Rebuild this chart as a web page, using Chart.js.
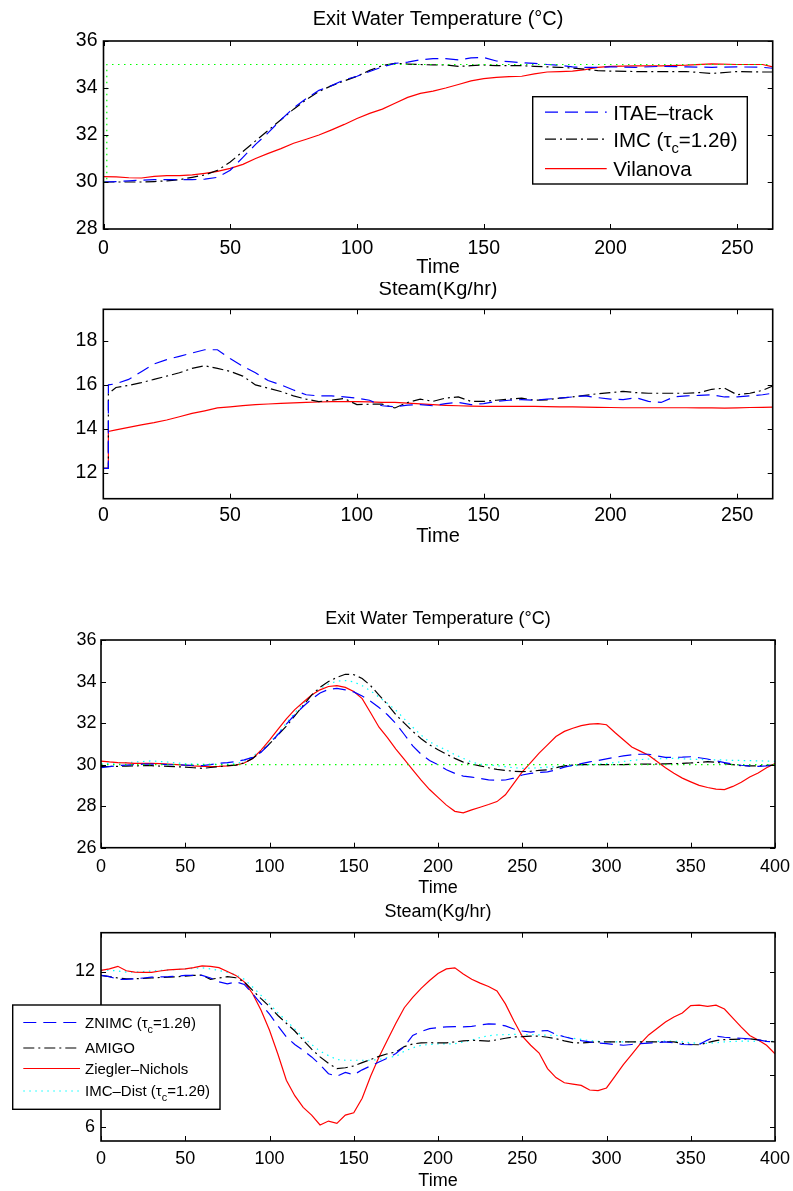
<!DOCTYPE html>
<html>
<head>
<meta charset="utf-8">
<title>Exit water temperature and steam flow</title>
<script src="https://cdn.jsdelivr.net/npm/chart.js@4.4.0/dist/chart.umd.min.js"></script>
<style>
  html, body { margin:0; padding:0; background:#fff; }
  #page { position:relative; width:793px; height:1191px; overflow:hidden; background:#fff; }
  #page canvas { position:absolute; left:0; }
</style>
</head>
<body>
<div id="page">
  <canvas id="c-track-temp"  width="793" height="282" style="top:0"></canvas>
  <canvas id="c-track-steam" width="793" height="278" style="top:282px"></canvas>
  <canvas id="c-dist-temp"   width="793" height="310" style="top:590px"></canvas>
  <canvas id="c-dist-steam"  width="793" height="291" style="top:900px"></canvas>
</div>
<script>
// ---- setpoint tracking run ----
const time1 = [0,5,10,15,20,25,30,35,40,45,50,55,60,65,70,75,80,85,90,95,100,105,110,115,120,125,130,135,140,145,
  150,155,160,165,170,175,180,185,190,195,200,210,220,230,240,250,260,264];
const itaeTemp = [30.0,30.02,30.05,30.08,30.1,30.1,30.1,30.1,30.12,30.2, 30.5,31.05,31.6,32.1,32.65,33.15,33.55,33.9,34.1,34.35,
  34.5,34.7,34.9,35.05,35.1,35.2,35.25,35.25,35.2,35.28, 35.3,35.15,35.12,35.08,35.05,35.0,34.97,34.9,34.88,34.88,
  34.9, 34.88,34.92,34.9,34.88,34.9,34.88,34.84];
const imcTemp = [30.0,30.0,30.0,30.0,30.02,30.05,30.1,30.2,30.3,30.5, 30.85,31.3,31.75,32.2,32.65,33.1,33.5,33.85,34.1,34.3,
  34.5,34.75,34.95,35.05,35.02,35.0,34.98,34.98,34.92,34.95, 34.98,34.95,34.95,34.95,34.92,34.9,34.88,34.85,34.8,34.74,
  34.72, 34.7,34.7,34.7,34.62,34.7,34.68,34.68];
const vilanovaTemp = [30.23,30.22,30.18,30.17,30.24,30.27,30.27,30.3,30.37,30.45, 30.58,30.75,31.0,31.22,31.42,31.65,31.82,32.0,32.22,32.45,
  32.7,32.92,33.1,33.35,33.6,33.77,33.87,34.0,34.15,34.3, 34.4,34.45,34.48,34.5,34.6,34.68,34.7,34.72,34.78,34.88,
  34.92, 34.94,34.94,34.97,35.03,35.0,35.0,34.9];
const spTime1 = [0, 1.3, 1.3, 264];
const spTemp1 = [30, 30, 35, 35];

const time2 = [0,2,2,5,10,15,20,25,30,35,40,45,50,55,60,65,70,75,80,85,90,95,100,105,110,115,120,125,130,135,140,145,
  150,155,160,165,170,175,180,185,190,195,200,205,210,215,220,225,230,235,240,245,250,255,260,264];
const itaeSteam = [12.2,12.2,16.0, 16.05,16.25,16.6,16.95,17.15,17.3,17.45,17.6,17.6,17.2,
  16.85,16.55,16.2,16.0,15.77,15.55,15.5,15.5,15.45,15.4, 15.3,15.05,15.0,15.08,15.1,15.05,15.15,15.2,15.1,15.15,
  15.25,15.3,15.33,15.3,15.35,15.4,15.45,15.5,15.42,15.35, 15.33,15.42,15.25,15.2,15.45,15.5,15.52,15.55,15.45,15.45,
  15.5,15.55, 15.62];
const imcSteam = [12.2,12.2,15.6, 15.88,15.98,16.1,16.25,16.4,16.55,16.75,16.87,16.75,16.62,
  16.4,16.0,15.85,15.7,15.5,15.35,15.24,15.3,15.38,15.1, 15.12,15.12,14.95,15.2,15.35,15.25,15.4,15.45,15.25,15.25,
  15.3,15.35,15.4,15.3,15.32,15.4,15.45,15.52,15.6,15.65, 15.7,15.65,15.62,15.62,15.62,15.62,15.65,15.8,15.85,15.55,
  15.62,15.75, 15.95];
const vilanovaSteam = [12.2,12.2,13.88, 13.95,14.07,14.18,14.28,14.4,14.55,14.7,14.82,14.95,15.0,
  15.06,15.1,15.13,15.16,15.18,15.2,15.22,15.24,15.24,15.24, 15.23,15.2,15.2,15.17,15.14,15.1,15.07,15.05,15.03,15.02,
  15.02,15.02,15.02,15.02,15.01,15.0,15.0,14.99,14.98,14.97, 14.96,14.96,14.96,14.96,14.96,14.96,14.95,14.95,14.94,14.95,
  14.97,14.98, 14.99];

// ---- disturbance rejection run ----
const time3 = [0,5,10,15,20,25,30,35,40,45,50,55,60,65,70,75,80,85,90,95,100,105,110,115,120,125,130,135,140,145,
  150,155,160,165,170,175,180,185,190,195,200,205,210,215,220,225,230,235,240,245,250,255,260,265,270,275,280,285,290,295,
  300,305,310,315,320,325,330,335,340,345,350,355,360,365,370,375,380,385,390,395,400];
const znimcTemp = [29.85,29.9,29.95,29.98,30.0,30.02,30.03,30.02,30.0,29.99,
  29.98,29.96,29.95,30.0,30.06,30.1,30.15,30.23,30.35,30.6,
  31.0,31.45,31.95,32.4,32.8,33.15,33.45,33.62,33.67,33.6,
  33.5,33.3,33.05,32.75,32.4,31.98,31.45,30.9,30.5,30.2,
  30.0,29.75,29.58,29.45,29.4,29.33,29.27,29.25,29.26,29.35,
  29.5,29.58,29.62,29.65,29.75,29.88,29.97,30.05,30.13,30.2,
  30.28,30.35,30.42,30.47,30.5,30.5,30.42,30.35,30.35,30.36,
  30.38,30.33,30.27,30.18,30.1,30.02,29.97,29.93,29.92,29.94,
  29.97];
const amigoTemp = [29.9,29.91,29.92,29.93,29.94,29.95,29.95,29.93,29.92,29.9,
  29.88,29.85,29.82,29.86,29.9,29.95,29.98,30.08,30.3,30.62,
  31.0,31.42,31.85,32.35,32.85,33.35,33.72,34.0,34.2,34.35,
  34.33,34.15,33.8,33.35,32.9,32.4,32.0,31.6,31.25,30.95,
  30.72,30.5,30.3,30.12,30.02,29.94,29.85,29.77,29.72,29.68,
  29.66,29.68,29.72,29.75,29.85,29.94,29.98,30.0,30.0,30.0,
  30.0,30.0,30.0,30.01,30.02,30.02,30.03,30.04,30.05,30.06,
  30.08,30.11,30.14,30.12,30.05,30.0,29.95,29.94,29.94,29.96,
  29.98];
const zieglerTemp = [30.17,30.13,30.1,30.08,30.06,30.06,30.06,30.05,30.03,30.0,
  29.97,29.94,29.92,29.91,29.92,29.94,29.98,30.08,30.3,30.7,
  31.18,31.7,32.2,32.65,33.0,33.35,33.6,33.76,33.8,33.72,
  33.52,33.18,32.5,31.8,31.3,30.75,30.25,29.75,29.25,28.8,
  28.42,28.05,27.75,27.68,27.82,27.95,28.08,28.22,28.55,29.1,
  29.65,30.1,30.55,30.95,31.35,31.6,31.75,31.88,31.95,31.97,
  31.92,31.55,31.2,30.85,30.65,30.45,30.15,29.85,29.58,29.35,
  29.17,29.0,28.9,28.82,28.8,28.95,29.15,29.4,29.6,29.85,
  30.05];
const imcDistTemp = [30.05,30.06,30.08,30.1,30.12,30.15,30.18,30.15,30.12,30.08,
  30.05,30.03,30.02,30.02,30.02,30.03,30.05,30.15,30.4,30.68,
  31.05,31.5,32.0,32.5,32.95,33.35,33.65,33.88,34.02,34.05,
  33.98,33.8,33.55,33.25,32.95,32.62,32.2,31.8,31.42,31.1,
  30.88,30.7,30.48,30.3,30.12,30.02,29.98,29.95,29.9,29.85,
  29.82,29.83,29.85,29.88,29.9,29.92,29.94,29.97,30.0,30.02,
  30.05,30.1,30.15,30.2,30.24,30.27,30.28,30.29,30.3,30.28,
  30.26,30.25,30.24,30.23,30.22,30.2,30.2,30.19,30.18,30.17,
  30.16];
const spTime3 = [0, 400];
const spTemp3 = [30, 30];

const znimcSteam = [11.85,11.8,11.7,11.7,11.72,11.75,11.78,11.79,11.8,11.82,
  11.85,11.85,11.85,11.75,11.6,11.52,11.6,11.5,11.14,10.75,
  10.35,9.9,9.47,9.18,8.95,8.7,8.4,8.05,7.95,8.1,
  8.01,8.2,8.35,8.5,8.65,8.83,9.1,9.53,9.68,9.79,
  9.83,9.86,9.87,9.86,9.88,9.93,9.98,9.96,9.9,9.78,
  9.7,9.66,9.7,9.72,9.57,9.48,9.4,9.33,9.28,9.24,
  9.21,9.18,9.15,9.18,9.21,9.23,9.25,9.28,9.24,9.18,
  9.17,9.18,9.35,9.5,9.46,9.44,9.42,9.4,9.36,9.3,
  9.28];
const amigoSteam = [11.85,11.8,11.75,11.72,11.72,11.73,11.75,11.77,11.78,11.8,
  11.82,11.85,11.86,11.7,11.75,11.8,11.76,11.6,11.27,10.95,
  10.65,10.3,10.0,9.7,9.35,9.0,8.7,8.45,8.25,8.28,
  8.35,8.48,8.6,8.72,8.82,8.89,9.1,9.2,9.24,9.25,
  9.24,9.24,9.28,9.32,9.34,9.33,9.31,9.36,9.42,9.47,
  9.48,9.5,9.5,9.46,9.4,9.32,9.25,9.24,9.26,9.28,
  9.28,9.28,9.28,9.28,9.28,9.28,9.28,9.28,9.28,9.22,
  9.18,9.17,9.25,9.33,9.37,9.38,9.39,9.4,9.36,9.3,
  9.28];
const zieglerSteam = [12.04,12.1,12.2,12.03,11.98,11.97,11.97,12.02,12.06,12.08,
  12.1,12.15,12.22,12.2,12.15,12.0,11.85,11.6,11.14,10.5,
  9.73,8.8,7.8,7.2,6.75,6.45,6.07,6.22,6.13,6.45,
  6.54,7.1,7.95,8.7,9.35,10.0,10.6,11.0,11.35,11.65,
  11.92,12.1,12.14,11.9,11.7,11.55,11.42,11.25,10.75,10.1,
  9.5,9.15,8.85,8.25,7.9,7.7,7.65,7.6,7.42,7.4,
  7.5,7.95,8.4,8.8,9.2,9.55,9.8,10.05,10.24,10.4,
  10.68,10.7,10.65,10.7,10.55,10.2,9.85,9.53,9.35,9.15,
  8.82];
const imcDistSteam = [12.06,12.05,12.02,11.98,11.97,12.0,12.02,12.04,12.06,12.08,
  12.1,12.12,12.14,12.1,12.04,11.97,11.88,11.7,11.4,11.08,
  10.75,10.4,10.1,9.78,9.45,9.18,8.92,8.75,8.6,8.57,
  8.57,8.57,8.57,8.6,8.68,8.72,8.92,9.05,9.15,9.18,
  9.2,9.2,9.21,9.28,9.35,9.45,9.52,9.55,9.56,9.57,
  9.57,9.56,9.55,9.54,9.53,9.48,9.42,9.38,9.33,9.3,
  9.28,9.28,9.28,9.28,9.28,9.29,9.3,9.31,9.31,9.28,
  9.25,9.22,9.22,9.25,9.28,9.3,9.31,9.31,9.3,9.3,
  9.3];

// axis ticks
const xTicksTrack = [0, 50, 100, 150, 200, 250];
const xTicksDist  = [0, 50, 100, 150, 200, 250, 300, 350, 400];
const yTicksTemp1 = [28, 30, 32, 34, 36];
const yTicksSteam1 = [12, 14, 16, 18];
const yTicksTemp2 = [26, 28, 30, 32, 34, 36];
const yTicksSteam2 = [6, 8, 10, 12];

const FONT = "'Liberation Sans', Arial, Helvetica, sans-serif";
const CANVAS_W = 793;

const STYLE = {
  blue:  { borderColor:'#0000ff', borderDash:[13, 7] },
  black: { borderColor:'#000000', borderDash:[11, 4, 2, 4] },
  red:   { borderColor:'#ff0000', borderDash:[] },
  green: { borderColor:'#00ff00', borderDash:[1.5, 4.5] },
  cyan:  { borderColor:'#00ffff', borderDash:[1.5, 4.5] }
};

function pts(xs, ys) { return xs.map((x, i) => ({ x, y: ys[i] })); }

function lineSet(label, xs, ys, style, extra) {
  return Object.assign({ label, data: pts(xs, ys), pointRadius:0, borderWidth:1.2,
    tension:0, fill:false, backgroundColor:'transparent' }, style, extra || {});
}

// draws "τ_c" style labels with a one-character subscript
function drawRich(ctx, text, x, y, size) {
  const parts = text.split(/_(.)/);
  parts.forEach((p, i) => {
    const sub = i % 2 === 1;
    const fs = sub ? size * 0.72 : size;
    ctx.font = `${fs}px ${FONT}`;
    ctx.fillText(p, x, sub ? y + size * 0.32 : y);
    x += ctx.measureText(p).width;
  });
}

// matlab-like frame: box, inward ticks on every side, title, xlabel, legend
const matlabFrame = {
  id: 'matlabFrame',
  afterDatasetsDraw(chart, args, o) {
    const { ctx, chartArea: a, scales: { x, y } } = chart;
    ctx.save();
    ctx.strokeStyle = '#000';
    ctx.lineWidth = 1;
    ctx.setLineDash([]);
    ctx.beginPath();
    x.ticks.forEach(t => {
      const px = Math.round(x.getPixelForValue(t.value)) + 0.5;
      ctx.moveTo(px, a.bottom); ctx.lineTo(px, a.bottom - 5);
      ctx.moveTo(px, a.top);    ctx.lineTo(px, a.top + 5);
    });
    y.ticks.forEach(t => {
      const py = Math.round(y.getPixelForValue(t.value)) + 0.5;
      ctx.moveTo(a.left, py);  ctx.lineTo(a.left + 5, py);
      ctx.moveTo(a.right, py); ctx.lineTo(a.right - 5, py);
    });
    ctx.stroke();
    ctx.lineWidth = 1.6;
    ctx.strokeRect(a.left, a.top, a.right - a.left, a.bottom - a.top);

    ctx.fillStyle = '#000';
    ctx.textAlign = 'center';
    ctx.textBaseline = 'alphabetic';
    ctx.font = `${o.fontSize}px ${FONT}`;
    const cx = (a.left + a.right) / 2;
    ctx.fillText(o.title, cx, a.top + o.titleDy);
    ctx.fillText(o.xlabel, cx, a.bottom + o.xlabelDy);

    const lg = o.legend;
    if (lg) {
      ctx.fillStyle = '#fff';
      ctx.fillRect(lg.x, lg.y, lg.w, lg.h);
      ctx.lineWidth = 1.4;
      ctx.strokeRect(lg.x, lg.y, lg.w, lg.h);
      const items = chart.data.datasets.filter(d => !d.noLegend);
      items.forEach((d, i) => {
        const ry = lg.y + lg.rows[i];
        ctx.strokeStyle = d.borderColor;
        ctx.lineWidth = d.borderWidth;
        ctx.setLineDash(d.borderDash);
        ctx.beginPath();
        ctx.moveTo(lg.x + lg.lineFrom, ry);
        ctx.lineTo(lg.x + lg.lineTo, ry);
        ctx.stroke();
        ctx.setLineDash([]);
        ctx.fillStyle = '#000';
        ctx.textAlign = 'left';
        drawRich(ctx, d.label, lg.x + lg.textX, ry + lg.fontSize * 0.36, lg.fontSize);
      });
    }
    ctx.restore();
  }
};

function makePanel(id, p) {
  const canvas = document.getElementById(id);
  const H = canvas.height;
  const tickFont = { family: FONT, size: p.fontSize };
  return new Chart(canvas, {
    type: 'line',
    data: { datasets: p.datasets },
    options: {
      responsive: false,
      animation: false,
      events: [],
      layout: { padding: { left: 0, top: p.area.top, right: CANVAS_W - p.area.right, bottom: 0 } },
      plugins: {
        legend: { display: false },
        tooltip: { enabled: false },
        matlabFrame: { title: p.title, xlabel: 'Time', fontSize: p.titleSize || p.fontSize,
          titleDy: p.titleDy, xlabelDy: p.xlabelDy, legend: p.legend }
      },
      scales: {
        x: {
          type: 'linear', min: p.xMin, max: p.xMax,
          afterBuildTicks: s => { s.ticks = p.xTicks.map(v => ({ value: v })); },
          // fixed axis height; the edge labels may hang into the page margin
          afterFit: s => { s.height = H - p.area.bottom; s.paddingLeft = 0; s.paddingRight = 0; },
          grid: { display: false, drawTicks: false },
          border: { display: false },
          ticks: { color: '#000', font: tickFont, padding: p.xPad, maxRotation: 0, autoSkip: false }
        },
        y: {
          type: 'linear', min: p.yMin, max: p.yMax,
          afterBuildTicks: s => { s.ticks = p.yTicks.map(v => ({ value: v })); },
          afterFit: s => { s.width = p.area.left; s.paddingTop = 0; s.paddingBottom = 0; },
          grid: { display: false, drawTicks: false },
          border: { display: false },
          ticks: { color: '#000', font: tickFont, padding: p.yPad, autoSkip: false }
        }
      }
    },
    plugins: [matlabFrame]
  });
}

const tempTitle = 'Exit Water Temperature (°C)';
const steamTitle = 'Steam(Kg/hr)';

makePanel('c-track-temp', {
  title: tempTitle, fontSize: 19.5, titleSize: 20, titleDy: -16, xlabelDy: 44,
  area: { left: 103.5, right: 772.7, top: 41, bottom: 229 },
  xMin: 0, xMax: 264, yMin: 28, yMax: 36, xTicks: xTicksTrack, yTicks: yTicksTemp1, xPad: 8, yPad: 6,
  datasets: [
    lineSet('Setpoint', spTime1, spTemp1, STYLE.green, { noLegend: true }),
    lineSet('ITAE–track', time1, itaeTemp, STYLE.blue),
    lineSet('IMC (τ_c=1.2θ)', time1, imcTemp, STYLE.black),
    lineSet('Vilanova', time1, vilanovaTemp, STYLE.red)
  ],
  legend: { x: 532.7, y: 96.7, w: 214.6, h: 87.3, rows: [15.5, 42.5, 72], lineFrom: 12.3, lineTo: 74, textX: 80.6, fontSize: 20.5 }
});

makePanel('c-track-steam', {
  title: steamTitle, fontSize: 19.5, titleSize: 20, titleDy: -14.3, xlabelDy: 43,
  area: { left: 103.3, right: 772.7, top: 27.3, bottom: 216.7 },
  xMin: 0, xMax: 264, yMin: 10.82, yMax: 19.44, xTicks: xTicksTrack, yTicks: yTicksSteam1, xPad: 5.5, yPad: 6,
  datasets: [
    lineSet('ITAE–track', time2, itaeSteam, STYLE.blue),
    lineSet('IMC (τ_c=1.2θ)', time2, imcSteam, STYLE.black),
    lineSet('Vilanova', time2, vilanovaSteam, STYLE.red)
  ]
});

makePanel('c-dist-temp', {
  title: tempTitle, fontSize: 18, titleDy: -16, xlabelDy: 45.3,
  area: { left: 101, right: 775, top: 50, bottom: 257.7 },
  xMin: 0, xMax: 400, yMin: 26, yMax: 36, xTicks: xTicksDist, yTicks: yTicksTemp2, xPad: 8.4, yPad: 4.5,
  datasets: [
    lineSet('Setpoint', spTime3, spTemp3, STYLE.green, { noLegend: true }),
    lineSet('ZNIMC (τ_c=1.2θ)', time3, znimcTemp, STYLE.blue),
    lineSet('AMIGO', time3, amigoTemp, STYLE.black),
    lineSet('Ziegler–Nichols', time3, zieglerTemp, STYLE.red),
    lineSet('IMC–Dist (τ_c=1.2θ)', time3, imcDistTemp, STYLE.cyan)
  ]
});

makePanel('c-dist-steam', {
  title: steamTitle, fontSize: 18, titleDy: -16, xlabelDy: 45,
  area: { left: 101, right: 775, top: 32.7, bottom: 241 },
  xMin: 0, xMax: 400, yMin: 5.45, yMax: 13.5, xTicks: xTicksDist, yTicks: yTicksSteam2, xPad: 7.7, yPad: 6,
  datasets: [
    lineSet('ZNIMC (τ_c=1.2θ)', time3, znimcSteam, STYLE.blue),
    lineSet('AMIGO', time3, amigoSteam, STYLE.black),
    lineSet('Ziegler–Nichols', time3, zieglerSteam, STYLE.red),
    lineSet('IMC–Dist (τ_c=1.2θ)', time3, imcDistSteam, STYLE.cyan)
  ],
  legend: { x: 12.7, y: 105, w: 207.3, h: 104.3, rows: [17.5, 43, 63.5, 86], lineFrom: 10.6, lineTo: 67.3, textX: 72.3, fontSize: 15 }
});
</script>
</body>
</html>
